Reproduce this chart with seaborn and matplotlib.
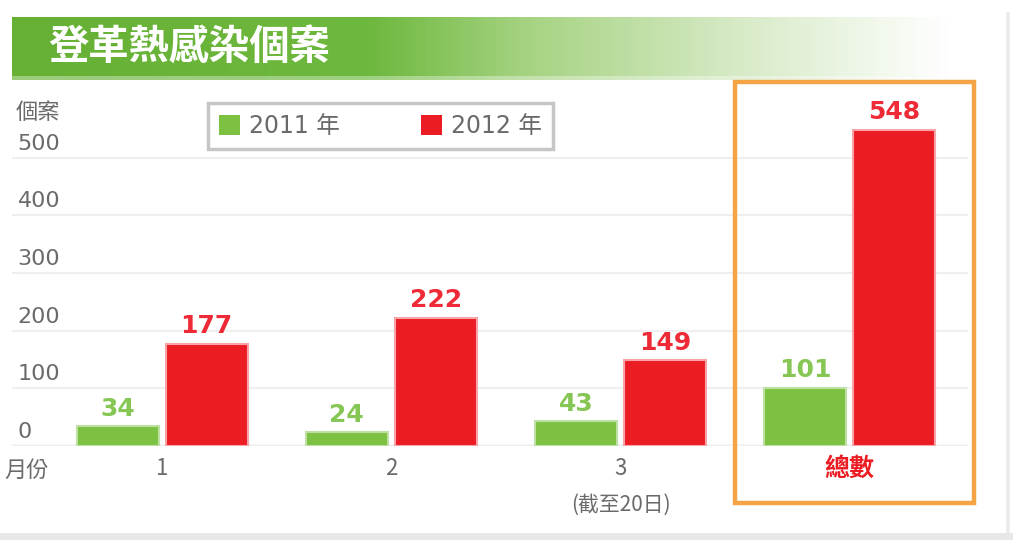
import matplotlib
matplotlib.use("Agg")
import matplotlib.pyplot as plt
import seaborn as sns
import numpy as np
import pandas as pd
from matplotlib.patches import Rectangle
from matplotlib.colors import LinearSegmentedColormap
from matplotlib.transforms import blended_transform_factory

# ---------------- data ----------------
months = ["1", "2", "3", "總數"]
tick_labels = ["1", "2", "3", "總數"]
month_note = "(截至20日)"
years = ["2011 年", "2012 年"]
cases_2011 = [34, 24, 43, 101]
cases_2012 = [177, 222, 149, 548]
y_ticks = [0, 100, 200, 300, 400, 500]
title = "登革熱感染個案"
y_label = "個案"
x_label = "月份"

# ---------------- style ----------------
GREEN = "#7cc142"
RED = "#ec1c24"
GRAY_TXT = "#6a6a6a"
CJK = ["Noto Sans CJK TC", "DejaVu Sans"]
NUM = ["DejaVu Sans", "Noto Sans CJK TC"]

sns.set_theme(style="white")
plt.rcParams["font.family"] = CJK

df = pd.DataFrame({
    "month": months * 2,
    "year": [years[0]] * len(months) + [years[1]] * len(months),
    "cases": cases_2011 + cases_2012,
})

W, H = 1013, 540
fig = plt.figure(figsize=(W / 100, H / 100), dpi=100)
fig.patch.set_facecolor("white")


def fx(px):
    return px / W


def fy(py):
    return 1 - py / H


# ---------------- title banner ----------------
bax = fig.add_axes([fx(12), fy(80), fx(950) - fx(12), (80 - 17) / H])
cmap = LinearSegmentedColormap.from_list(
    "banner",
    [(0.0, "#66b134"), (0.38, "#6db83e"), (0.55, "#a6d382"),
     (0.78, "#d8ebc8"), (1.0, "#ffffff")])
grad = np.linspace(0, 1, 512)[None, :]
bax.imshow(grad, aspect="auto", cmap=cmap, extent=[0, 1, 0, 1])
bax.add_patch(Rectangle((0, 0), 1, 0.07, transform=bax.transAxes,
                        color="white", alpha=0.35, lw=0))
bax.set_axis_off()
fig.text(fx(48), fy(48), title, color="white", fontsize=29,
         fontweight="bold", va="center", ha="left", family=CJK)

# frame decorations (right gray rule and bottom strip)
fig.add_artist(Rectangle((fx(1006), 0), fx(4), fy(12), transform=fig.transFigure,
                         color="#ececec", lw=0))
fig.add_artist(Rectangle((0, 0), 1, 7 / H, transform=fig.transFigure,
                         color="#e8e8e8", lw=0))

# ---------------- main axes ----------------
ax = fig.add_axes([fx(12), fy(446), fx(968) - fx(12), (446 - 100) / H])
sns.barplot(data=df, x="month", y="cases", hue="year", order=months,
            hue_order=years, palette=[GREEN, RED], width=0.777, gap=0.08,
            ax=ax, saturation=1, legend=True)

# light fringe around bars
for patch in ax.containers[0]:
    patch.set_edgecolor("#bfe0a4")
    patch.set_linewidth(1.5)
for patch in ax.containers[1]:
    patch.set_edgecolor("#f7a3a8")
    patch.set_linewidth(1.5)

ax.set_ylim(0, 600)
ax.set_xlim(-0.655, 3.516)
for s in ax.spines.values():
    s.set_visible(False)

ax.set_yticks(y_ticks)
ax.set_yticklabels([])
ax.tick_params(axis="y", length=0)
ax.grid(axis="y", color="#efefef", lw=1.5)
ax.set_axisbelow(True)
ax.axhline(0, color="#dcdcdc", lw=2.5, zorder=0.5)

# y tick labels drawn above their gridlines
ytr = blended_transform_factory(ax.transAxes, ax.transData)
for v in y_ticks:
    ax.annotate(str(v), xy=(0, v), xycoords=ytr, xytext=(4, 10),
                textcoords="offset points", ha="left", va="center",
                fontsize=16, color=GRAY_TXT, family=NUM)

# x tick labels
ax.set_xticks(range(len(months)))
ax.set_xticklabels(tick_labels)
ax.tick_params(axis="x", length=0, pad=8)
for i, lbl in enumerate(ax.get_xticklabels()):
    lbl.set_fontsize(16)
    if months[i] == "總數":
        lbl.set_color(RED)
        lbl.set_fontweight("bold")
        lbl.set_fontsize(18)
    else:
        lbl.set_color(GRAY_TXT)
ax.set_xlabel("")
ax.set_ylabel("")

xtr = blended_transform_factory(ax.transData, ax.transAxes)
ax.annotate(month_note, xy=(months.index("3"), 0), xycoords=xtr,
            xytext=(0, -42), textcoords="offset points", ha="center",
            va="center", fontsize=15, color=GRAY_TXT, family=CJK)

# value labels
ax.bar_label(ax.containers[0], labels=[str(v) for v in cases_2011],
             padding=4, color="#86c654", fontsize=18, fontweight="bold",
             family=NUM)
ax.bar_label(ax.containers[1], labels=[str(v) for v in cases_2012],
             padding=4, color="#ee2a36", fontsize=18, fontweight="bold",
             family=NUM)

# legend
handles, labels = ax.get_legend_handles_labels()
leg = ax.legend(handles, labels, loc="center",
                bbox_to_anchor=(fx(208), fy(150), fx(553) - fx(208),
                                (150 - 102) / H),
                bbox_transform=fig.transFigure, ncol=2, mode="expand",
                frameon=True, fancybox=False, edgecolor="#c6c6c6",
                framealpha=1, handlelength=0.9, handleheight=0.9,
                handletextpad=0.4, columnspacing=1.4, borderpad=0.45,
                borderaxespad=0, prop={"family": NUM, "size": 17})
leg.get_frame().set_linewidth(2.5)
for t in leg.get_texts():
    t.set_color(GRAY_TXT)
for h in leg.legend_handles:
    h.set_edgecolor("none")

# orange highlight box around the total group
i_tot = months.index("總數")
btr = blended_transform_factory(ax.transData, fig.transFigure)
ax.add_patch(Rectangle((i_tot - 0.5, fy(503)), 1.04, fy(82) - fy(503),
                       transform=btr, fill=False, edgecolor="#f5a445",
                       lw=3.2, clip_on=False, zorder=5))

# axis captions
fig.text(fx(16), fy(112), y_label, fontsize=16, color=GRAY_TXT,
         ha="left", va="center", family=CJK)
fig.text(fx(4), fy(470), x_label, fontsize=16, color=GRAY_TXT,
         ha="left", va="center", family=CJK)

fig.savefig("out.png", dpi=100, facecolor="white")
